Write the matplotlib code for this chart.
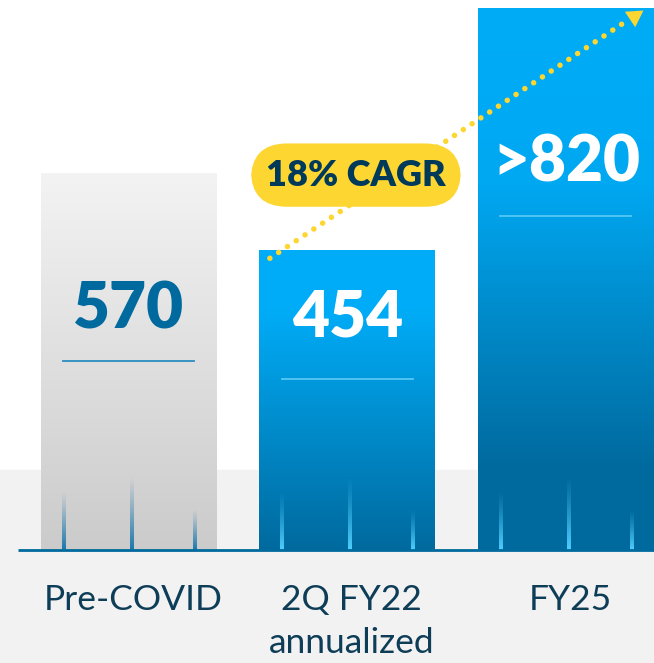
import numpy as np
import matplotlib.pyplot as plt
from matplotlib.colors import LinearSegmentedColormap, to_rgba

# data
categories = ["Pre-COVID", "2Q FY22\nannualized", "FY25"]
values = [570, 454, 820]
value_labels = ["570", "454", ">820"]
cagr_label = "18% CAGR"

# paletas
gray_top, gray_bot = "#f3f3f3", "#cbcbcb"
blue_top, blue_bot = "#00acf7", "#006a9e"
navy = "#0e3d58"
yellow = "#fdd631"

plt.rcParams["font.family"] = ["Lato", "DejaVu Sans"]

fig = plt.figure(figsize=(6.54, 6.63), dpi=100)
ax = fig.add_axes([0, 0, 1, 1])
ax.set_xlim(-0.59, 2.403)
ax.set_ylim(-171.2, 833.3)
ax.axis("off")

# faixa cinza de fundo
ax.axhspan(-171.2, 121, color="#f2f2f2", zorder=0)

w = 0.805
x = np.arange(len(categories))

# gradientes de cada barra (paradas relativas, topo -> base)
stops = [
    [(0, gray_top), (1, gray_bot)],
    [(0, blue_top), (0.2, blue_top), (1, blue_bot)],
    [(0, blue_top), (0.32, "#00a8f2"), (0.85, blue_bot), (1, blue_bot)],
]
for i, v in enumerate(values):
    cm = LinearSegmentedColormap.from_list("", stops[i])
    grad = np.linspace(0, 1, 256).reshape(-1, 1)
    ax.imshow(grad, cmap=cm, aspect="auto", extent=(x[i] - w / 2, x[i] + w / 2, 0, v),
              origin="upper", zorder=2, interpolation="bilinear")

# risquinhos verticais no pe das barras
tick_dx = [-0.30, 0.01, 0.30]
tick_h = [88, 112, 61]
tick_cols = ["#1a78ad", "#4fcfff", "#4fcfff"]
for i in range(len(values)):
    rgba = np.array(to_rgba(tick_cols[i]))
    for dx, h in zip(tick_dx, tick_h):
        img = np.tile(rgba, (100, 1, 1))
        img[:, 0, 3] = np.linspace(0, 1, 100) ** 1.2
        ax.imshow(img, aspect="auto", extent=(x[i] + dx - 0.007, x[i] + dx + 0.007, 0, h),
                  origin="upper", zorder=3, interpolation="bilinear")

# linha de base
ax.plot([-0.508, 2.5], [0, 0], color="#006a9e", lw=2, zorder=4, solid_capstyle="butt")

# valores e tracinho abaixo
text_y = [364, 351, 586]
rule_y = [286, 259, 506]
val_cols = ["#006a9e", "white", "white"]
rule_cols = ["#2a8cc0", "#55c8f5", "#55c8f5"]
for i in range(len(values)):
    ax.text(x[i], text_y[i], value_labels[i], ha="center", va="center", fontsize=46,
            fontweight="heavy", color=val_cols[i], zorder=5)
    ax.plot([x[i] - 0.30, x[i] + 0.30], [rule_y[i], rule_y[i]], color=rule_cols[i],
            lw=1.3, zorder=5)

# seta pontilhada CAGR
p0 = np.array([x[1] - 0.355, values[1] - 12])
tip = np.array([2.352, 818])
d = tip - p0
# direcao em pixels (p/ girar a ponta)
px_per = np.array([654 / (2.403 + 0.59), 663 / (833.3 + 171.2)])
dpx = d * px_per
ang = np.degrees(np.arctan2(dpx[1], dpx[0]))
u = dpx / np.hypot(*dpx)
head_c = tip - 10.5 * u / px_per   # centroide do triangulo
p1 = tip - 17 * u / px_per
ax.plot([p0[0], p1[0]], [p0[1], p1[1]], color=yellow, lw=4, linestyle=(0, (0.001, 1.9)),
        dash_capstyle="round", zorder=6)
ax.plot(head_c[0], head_c[1], marker=(3, 0, ang - 90), ms=15.5, color=yellow,
        mew=0, zorder=7)

ax.text(1.039, 568, cagr_label, ha="center", va="center", fontsize=26, fontweight="heavy",
        color="#003a5a", zorder=8,
        bbox=dict(boxstyle="round,pad=0.42,rounding_size=1.0", fc=yellow, ec="none"))

# categorias
for i, c in enumerate(categories):
    ax.text(x[i] + 0.02, -52, c, ha="center", va="top", fontsize=25.5, color=navy,
            linespacing=1.42, zorder=5)

plt.savefig("out.png", dpi=100)
plt.close()
